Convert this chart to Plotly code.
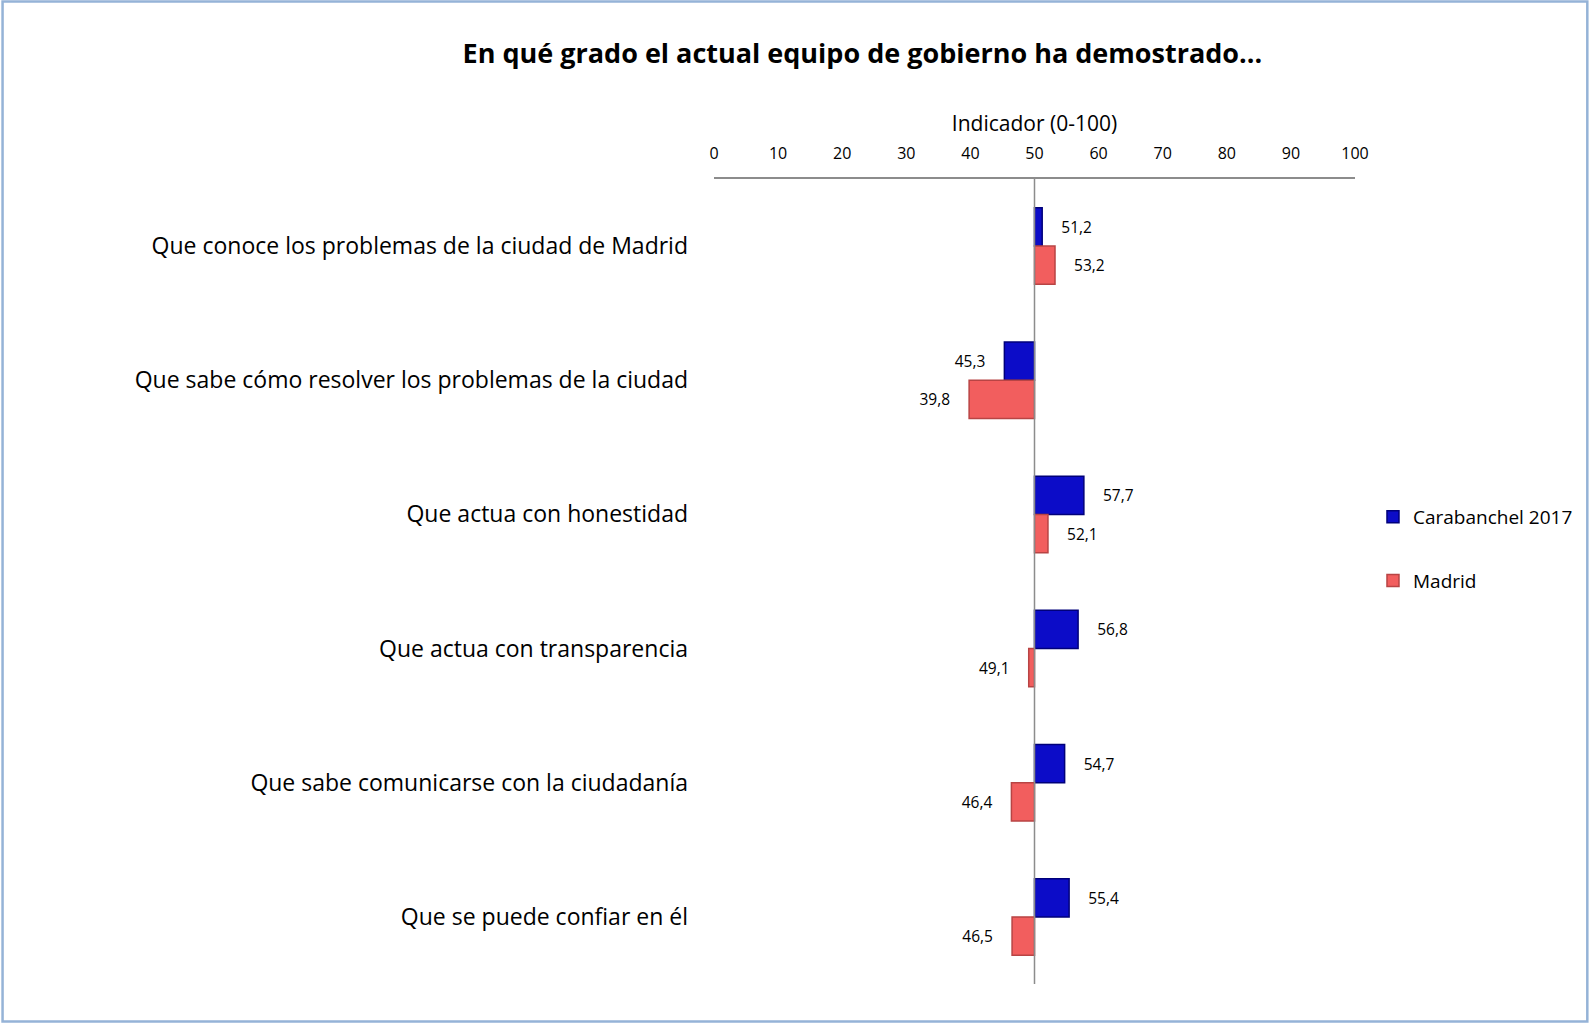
import plotly.graph_objects as go

# Survey indicator (0-100), bars diverge from the neutral midpoint 50
categories = [
    "Que conoce los problemas de la ciudad de Madrid",
    "Que sabe cómo resolver los problemas de la ciudad",
    "Que actua con honestidad",
    "Que actua con transparencia",
    "Que sabe comunicarse con la ciudadanía",
    "Que se puede confiar en él",
]
carabanchel_2017 = [51.2, 45.3, 57.7, 56.8, 54.7, 55.4]
madrid = [53.2, 39.8, 52.1, 49.1, 46.4, 46.5]
x_ticks = [0, 10, 20, 30, 40, 50, 60, 70, 80, 90, 100]

MIDPOINT = 50
W, H = 1589, 1023
M_L, M_R, M_T, M_B = 713.5, 234, 179, 39
FONT = "'Open Sans', Lato, sans-serif"
PAD = "\u00a0" * 4


def fmt(v):
    return f"{v:.1f}".replace(".", ",")


def labels(vals):
    # pad on the side facing away from the bar
    return [(PAD + fmt(v)) if v >= MIDPOINT else (fmt(v) + PAD) for v in vals]


def bar(name, vals, fill, edge):
    return go.Bar(
        name=name,
        y=categories,
        x=[v - MIDPOINT for v in vals],
        base=MIDPOINT,
        orientation="h",
        marker=dict(color=fill, line=dict(color=edge, width=1.5)),
        text=labels(vals),
        textposition="outside",
        textfont=dict(family=FONT, size=15.5, color="#000000"),
        cliponaxis=False,
        legendgroup=name,
        hovertemplate="%{y}: %{text}<extra>" + name + "</extra>",
    )


fig = go.Figure()
fig.add_trace(bar("Carabanchel 2017", carabanchel_2017, "#0C0CC8", "#00007A"))
fig.add_trace(bar("Madrid", madrid, "#F25E5E", "#B84444"))

pw = W - M_L - M_R
ph = H - M_T - M_B


def px_x(p):
    return (p - M_L) / pw


def px_y(p):
    return 1 - (p - M_T) / ph


fig.update_layout(
    width=W,
    height=H,
    margin=dict(l=M_L, r=M_R, t=M_T, b=M_B, autoexpand=False),
    paper_bgcolor="#FFFFFF",
    plot_bgcolor="#FFFFFF",
    barmode="group",
    bargap=0.43,
    bargroupgap=0,
    font=dict(family=FONT, color="#000000"),
    title=dict(
        text="<b>En qué grado el actual equipo de gobierno ha demostrado...</b>",
        font=dict(family=FONT, size=27, color="#000000"),
        x=px_x(862), xref="paper", xanchor="center",
        y=1 - 54 / H, yanchor="middle",
    ),
    xaxis=dict(
        range=[0, 100],
        side="top",
        tickvals=x_ticks,
        ticks="",
        ticklabelstandoff=12,
        tickfont=dict(family=FONT, size=16),
        showgrid=False,
        zeroline=False,
        showline=True,
        linecolor="#8C8C8C",
        linewidth=1.5,
        title=dict(text="Indicador (0-100)", font=dict(family=FONT, size=21), standoff=4),
        fixedrange=True,
    ),
    yaxis=dict(
        autorange="reversed",
        ticks="",
        ticklabelstandoff=25,
        tickfont=dict(family=FONT, size=23),
        showgrid=False,
        zeroline=False,
        showline=False,
        fixedrange=True,
    ),
    legend=dict(
        x=px_x(1373), xanchor="left",
        y=px_y(549), yanchor="middle",
        font=dict(family=FONT, size=19),
        tracegroupgap=36,
        traceorder="grouped",
        bgcolor="rgba(0,0,0,0)",
    ),
    shapes=[
        # vertical reference line at the midpoint
        dict(type="line", xref="x", yref="paper", x0=MIDPOINT, x1=MIDPOINT, y0=0, y1=1,
             line=dict(color="#8C8C8C", width=1.5), layer="above"),
        # chart frame
        dict(type="rect", xref="paper", yref="paper",
             x0=px_x(1.5), x1=px_x(1587.5), y0=px_y(1021.5), y1=px_y(1.5),
             line=dict(color="#95B3D7", width=2.5), layer="below"),
    ],
)

fig.write_html("out.html")
